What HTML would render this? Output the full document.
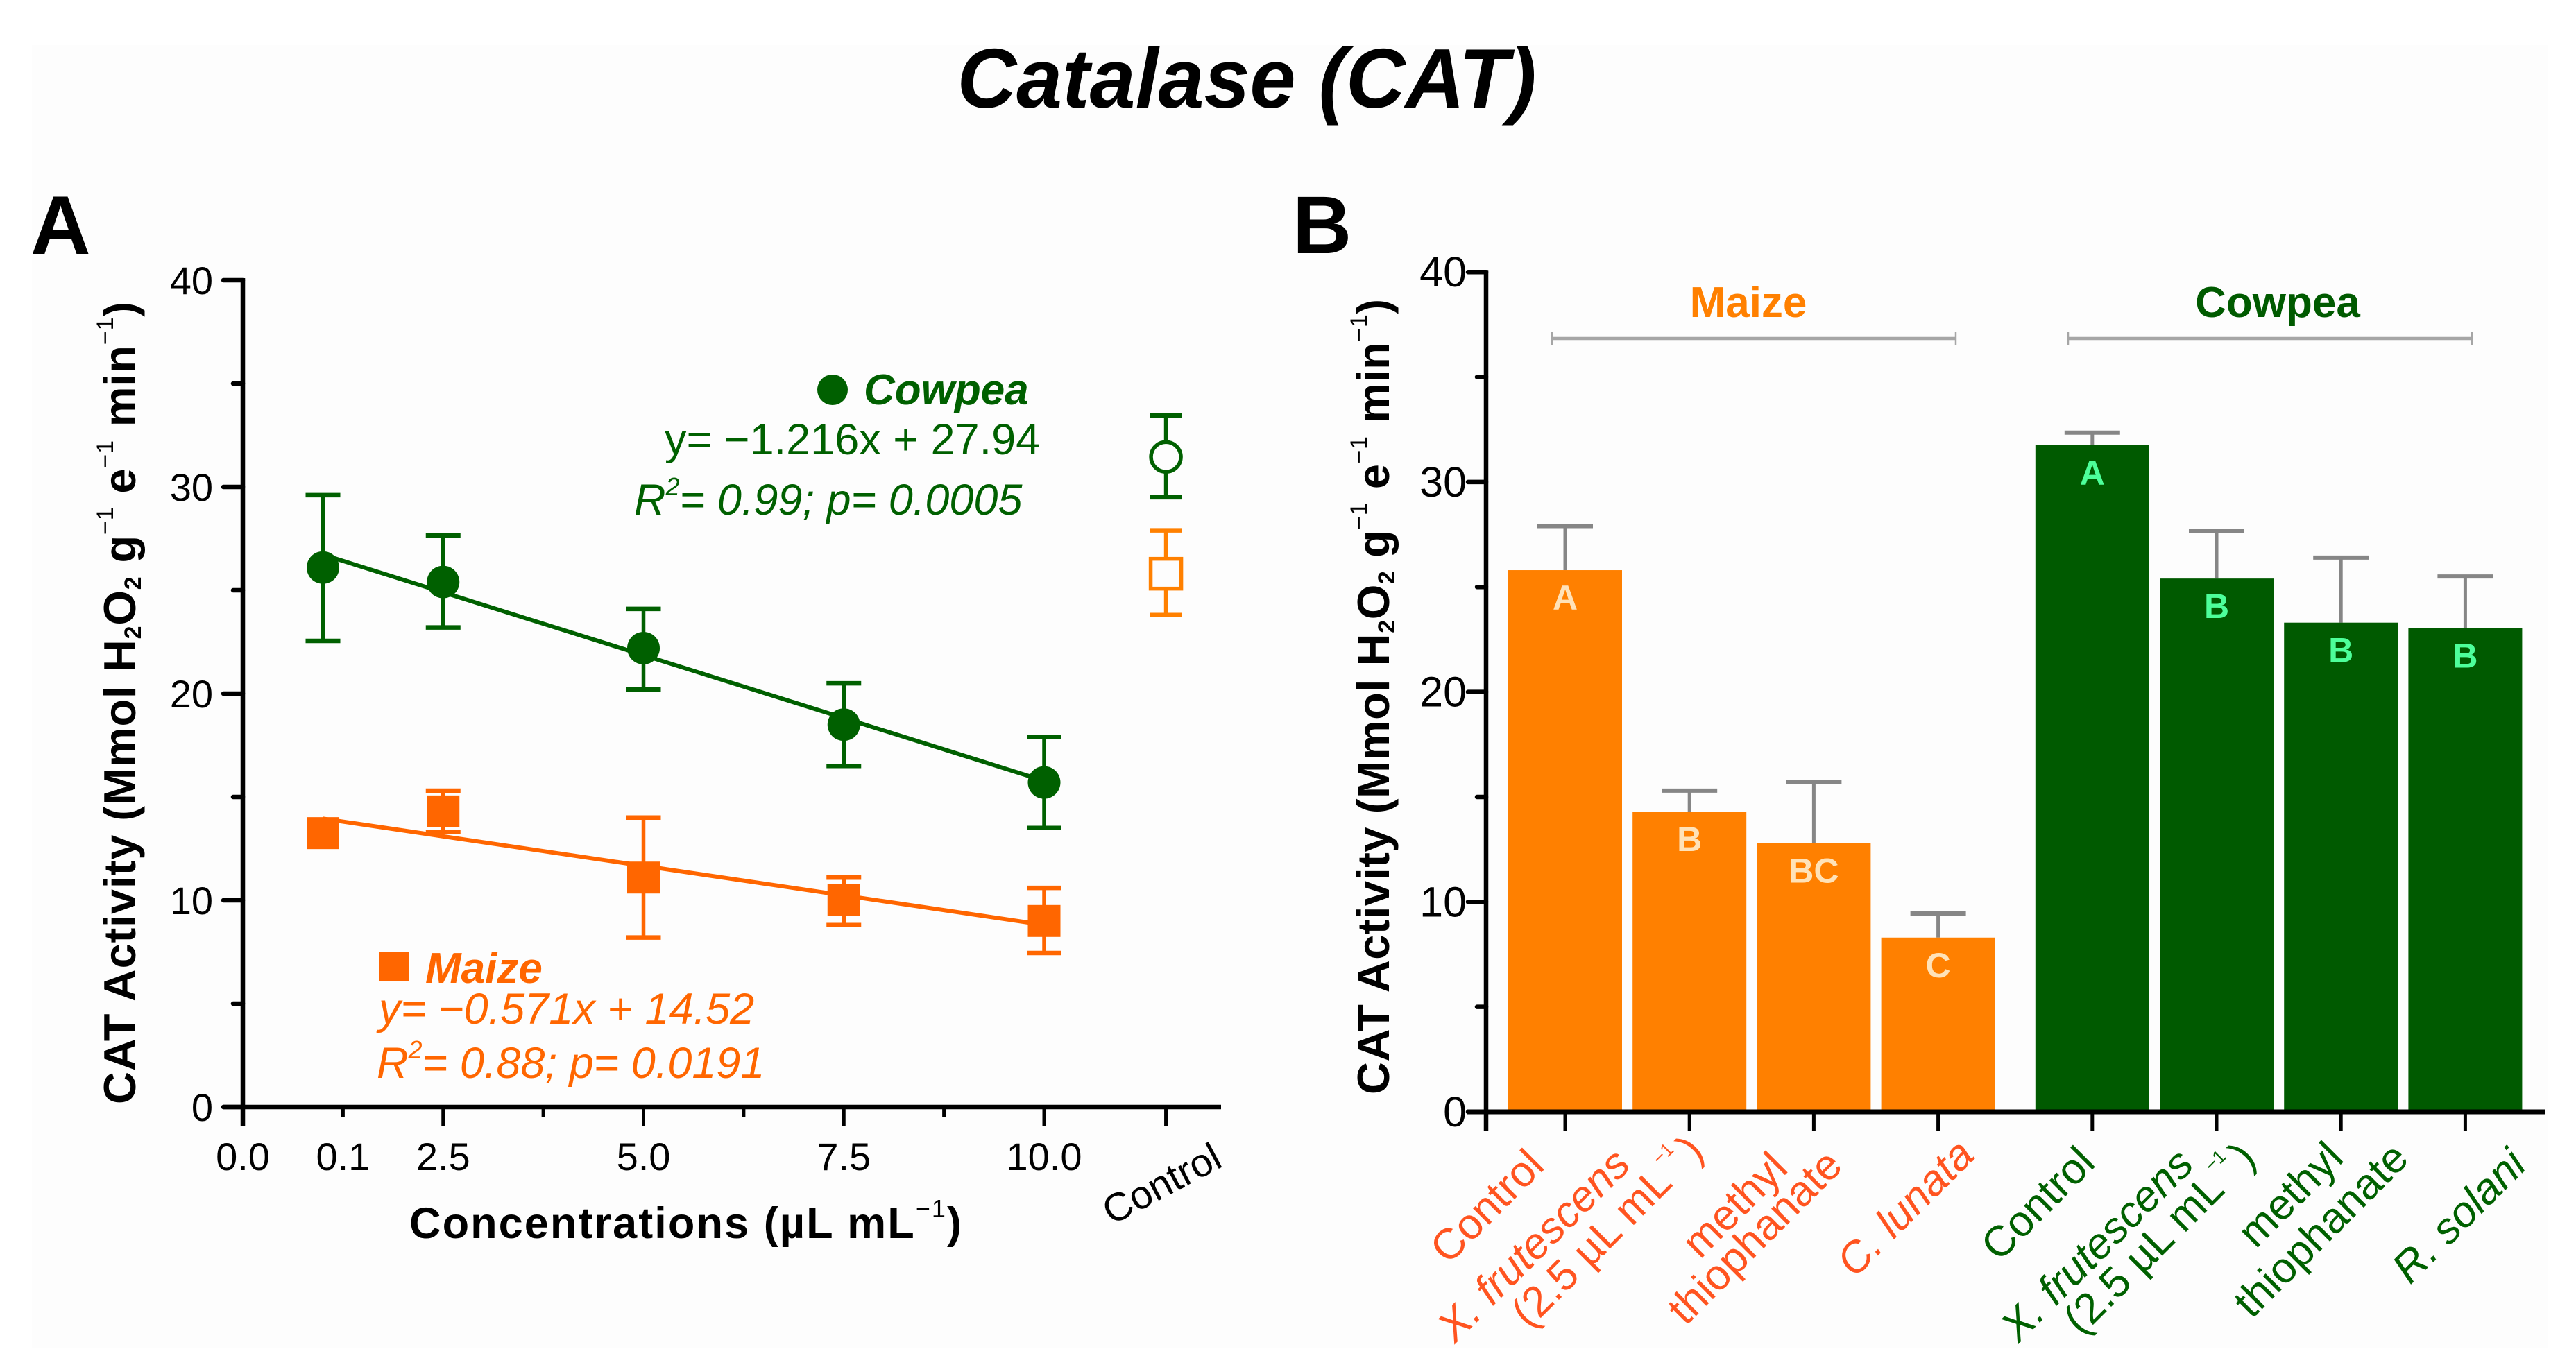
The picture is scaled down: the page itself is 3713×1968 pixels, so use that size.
<!DOCTYPE html>
<html lang="en">
<head>
<meta charset="utf-8">
<title>Catalase (CAT)</title>
<style>
html,body{margin:0;padding:0;background:#fff;}
svg{display:block;}
text{font-family:"Liberation Sans",Arial,sans-serif;}
.b{font-weight:bold;}
.i{font-style:italic;}
.mz{fill:#ff6600;}
.cw{fill:#006000;}
.xr{fill:#ff5420;font-size:62px;text-anchor:middle;}
.xg{fill:#006000;font-size:62px;text-anchor:middle;}
</style>
</head>
<body>
<svg id="fig" xmlns="http://www.w3.org/2000/svg" width="3713" height="1968" viewBox="0 0 3713 1968">
  <rect x="46" y="65" width="3626" height="1878" fill="#fdfdfd"/>
  <text class="b i" x="1797" y="155" font-size="122" text-anchor="middle" textLength="835" lengthAdjust="spacingAndGlyphs">Catalase (CAT)</text>
  <text class="b" x="44" y="366" font-size="120">A</text>
  <text class="b" x="1863" y="365" font-size="118">B</text>

  <g id="panelA"></g>
  <g id="panelB"></g>

  <text class="b" font-size="65" transform="translate(195 1592) rotate(-90)" textLength="1157">CAT Activity (Mmol H<tspan font-size="34" dy="8">2</tspan><tspan dy="-8">O</tspan><tspan font-size="34" dy="8">2</tspan><tspan dy="-8"> g</tspan><tspan font-size="34" font-weight="normal" dy="-32">−1</tspan><tspan dy="32"> e</tspan><tspan font-size="34" font-weight="normal" dy="-32">−1</tspan><tspan dy="32"> min</tspan><tspan font-size="34" font-weight="normal" dy="-32">−1</tspan><tspan dy="32">)</tspan></text>
  <text class="b" font-size="63" x="590" y="1785" textLength="796">Concentrations (µL mL<tspan font-size="36" font-weight="normal" dy="-30">−1</tspan><tspan dy="30">)</tspan></text>
  <text font-size="57" text-anchor="middle" transform="rotate(-28 1675 1708)" x="1675" y="1726">Control</text>

  <circle cx="1200" cy="562" r="22" fill="#006000"/>
  <text class="b i cw" x="1245" y="583" font-size="62">Cowpea</text>
  <text class="cw" x="958" y="655" font-size="63">y= −1.216x + 27.94</text>
  <text class="i cw" x="914" y="742" font-size="63">R<tspan font-size="36" dy="-28">2</tspan><tspan dy="28">= 0.99; p= 0.0005</tspan></text>

  <rect x="547" y="1372" width="43" height="42" fill="#ff6600"/>
  <text class="b i mz" x="613" y="1417" font-size="62">Maize</text>
  <text class="i mz" x="546" y="1476" font-size="63">y= −0.571x + 14.52</text>
  <text class="i mz" x="543" y="1554" font-size="63">R<tspan font-size="36" dy="-28">2</tspan><tspan dy="28">= 0.88; p= 0.0191</tspan></text>

  <text class="b" font-size="65" transform="translate(2002 1578) rotate(-90)" textLength="1147">CAT Activity (Mmol H<tspan font-size="34" dy="8">2</tspan><tspan dy="-8">O</tspan><tspan font-size="34" dy="8">2</tspan><tspan dy="-8"> g</tspan><tspan font-size="34" font-weight="normal" dy="-32">−1</tspan><tspan dy="32"> e</tspan><tspan font-size="34" font-weight="normal" dy="-32">−1</tspan><tspan dy="32"> min</tspan><tspan font-size="34" font-weight="normal" dy="-32">−1</tspan><tspan dy="32">)</tspan></text>

  <g stroke="#a6a6a6" fill="none">
    <line x1="2237" y1="488" x2="2819" y2="488" stroke-width="4.5"/>
    <line x1="2237" y1="478" x2="2237" y2="498" stroke-width="2.5"/>
    <line x1="2819" y1="478" x2="2819" y2="498" stroke-width="2.5"/>
  </g>
  <g stroke="#a6a6a6" fill="none">
    <line x1="2981" y1="488" x2="3563" y2="488" stroke-width="4.5"/>
    <line x1="2981" y1="478" x2="2981" y2="498" stroke-width="2.5"/>
    <line x1="3563" y1="478" x2="3563" y2="498" stroke-width="2.5"/>
  </g>
  <text class="b" fill="#ff8000" x="2520" y="457" font-size="62" text-anchor="middle">Maize</text>
  <text class="b" fill="#005a00" x="3283" y="457" font-size="62" text-anchor="middle">Cowpea</text>

  <text class="xr" transform="rotate(-45 2158 1754)" x="2158" y="1754">Control</text>
  <text class="xr i" transform="rotate(-45 2225 1810)" x="2225" y="1810">X. frutescens</text>
  <text class="xr" transform="rotate(-45 2204 1917)" x="2204" y="1917" style="text-anchor:start">(2.5 µL mL<tspan font-size="27" dy="-34" dx="5">−1</tspan><tspan dy="34" dx="8">)</tspan></text>
  <text class="xr" transform="rotate(-45 2515 1752)" x="2515" y="1752">methyl</text>
  <text class="xr" transform="rotate(-45 2544 1798)" x="2544" y="1798">thiophanate</text>
  <text class="xr i" transform="rotate(-45 2761 1756)" x="2761" y="1756">C. lunata</text>

  <text class="xg" transform="rotate(-45 2952 1750)" x="2952" y="1750">Control</text>
  <text class="xg i" transform="rotate(-45 3037 1810)" x="3037" y="1810">X. frutescens</text>
  <text class="xg" transform="rotate(-45 3000 1927)" x="3000" y="1927" style="text-anchor:start">(2.5 µL mL<tspan font-size="27" dy="-34" dx="5">−1</tspan><tspan dy="34" dx="8">)</tspan></text>
  <text class="xg" transform="rotate(-45 3316 1737)" x="3316" y="1737">methyl</text>
  <text class="xg" transform="rotate(-45 3360 1788)" x="3360" y="1788">thiophanate</text>
  <text class="xg i" transform="rotate(-45 3559 1768)" x="3559" y="1768">R. solani</text>
</svg>
<script>
// ---- Panel A data ----
const doseTickValues = [0, 2.5, 5, 7.5, 10];
const doseTickLabels = ['0.0', '2.5', '5.0', '7.5', '10.0'];
const doseMinorTicks = [1.25, 3.75, 6.25, 8.75];
const doseMinorLabel = '0.1';
const controlAxisValue = 11.52;
const doseValues = [1, 2.5, 5, 7.5, 10];
const cowpeaMeans = [26.1, 25.4, 22.2, 18.5, 15.7];
const cowpeaUpper = [29.6, 27.65, 24.1, 20.5, 17.9];
const cowpeaLower = [22.55, 23.2, 20.2, 16.5, 13.5];
const maizeMeans = [13.25, 14.3, 11.1, 10, 9];
const maizeUpper = [13.25, 15.3, 14, 11.1, 10.6];
const maizeLower = [13.25, 13.3, 8.2, 8.8, 7.45];
const cowpeaControl = [31.45, 33.45, 29.5];
const maizeControl = [25.8, 27.9, 23.8];
const cowpeaFit = [-1.216, 27.94];
const maizeFit = [-0.571, 14.52];
const activityTicks = [0, 10, 20, 30, 40];
const activityMinorTicks = [5, 15, 25, 35];

// ---- Panel B data ----
const barPositions = [0, 1, 2, 3, 4.24, 5.24, 6.24, 7.24];
const barValues = [25.8, 14.3, 12.8, 8.3, 31.75, 25.4, 23.3, 23.05];
const barUpper = [27.9, 15.3, 15.7, 9.45, 32.35, 27.65, 26.4, 25.5];
const barLetters = ['A', 'B', 'BC', 'C', 'A', 'B', 'B', 'B'];
const barSpecies = ['maize', 'maize', 'maize', 'maize', 'cowpea', 'cowpea', 'cowpea', 'cowpea'];

const SVGNS = 'http://www.w3.org/2000/svg';
const panelA = document.getElementById('panelA');
const panelB = document.getElementById('panelB');
function mk(tag, attrs, parent, txt) {
  const n = document.createElementNS(SVGNS, tag);
  for (const k in attrs) n.setAttribute(k, attrs[k]);
  if (txt !== undefined) n.textContent = txt;
  parent.appendChild(n);
  return n;
}
// scales
const xA = v => 350 + 115.5 * v;
const yA = v => 1596 - 29.8 * v;
const xB = p => 2256 + 179.2 * p;
const yB = v => 1603 - 30.27 * v;
const BLACK = '#000';
const GREEN = '#006000';
const ORANGE = '#ff6600';

// ---- Panel A axes ----
let el;
el = mk('line', {x1: xA(0), y1: yA(0) + 28, x2: xA(0), y2: yA(40) - 3, stroke: BLACK, 'stroke-width': 6.5}, panelA);


el = mk('line', {x1: xA(0) - 28, y1: yA(0), x2: 1760, y2: yA(0), stroke: BLACK, 'stroke-width': 6.5}, panelA);


activityTicks.forEach(v => {
  let t = mk('line', {x1: xA(0) - 28, y1: yA(v), x2: xA(0), y2: yA(v), stroke: BLACK, 'stroke-width': 6.5, 'stroke-linecap': 'round'}, panelA);
  
  
  let l = mk('text', {x: 307, y: yA(v) + 20, 'font-size': 56, 'text-anchor': 'end'}, panelA, String(v));
  
  
});
activityMinorTicks.forEach(v => {
  let t = mk('line', {x1: xA(0) - 14, y1: yA(v), x2: xA(0), y2: yA(v), stroke: BLACK, 'stroke-width': 6.5, 'stroke-linecap': 'round'}, panelA);
  
  
});
doseTickValues.concat([controlAxisValue]).forEach(v => {
  let t = mk('line', {x1: xA(v), y1: yA(0), x2: xA(v), y2: yA(0) + 28, stroke: BLACK, 'stroke-width': 5}, panelA);
  
  
});
doseTickValues.forEach((v, i) => {
  let l = mk('text', {x: xA(v), y: 1687, 'font-size': 56, 'text-anchor': 'middle'}, panelA, doseTickLabels[i]);
  
  
});
doseMinorTicks.forEach(v => {
  let t = mk('line', {x1: xA(v), y1: yA(0), x2: xA(v), y2: yA(0) + 14, stroke: BLACK, 'stroke-width': 5}, panelA);
  
  
});
el = mk('text', {x: xA(doseMinorTicks[0]), y: 1687, 'font-size': 56, 'text-anchor': 'middle'}, panelA, doseMinorLabel);



// ---- Shared error bar ----
function errorBar(parent, x, hi, lo, color, capW, sw, capSw, yScale, species, caps) {
  let v = mk('line', {x1: x, y1: yScale(hi), x2: x, y2: yScale(lo), stroke: color, 'stroke-width': sw}, parent);
  
  
  caps.forEach(e => {
    let c = mk('line', {x1: x - capW / 2, y1: yScale(e), x2: x + capW / 2, y2: yScale(e), stroke: color, 'stroke-width': capSw}, parent);
    
    
  });
}
// ---- Panel A series ----
function fitLine(fit, color, species) {
  const a = doseValues[0], b = doseValues[doseValues.length - 1];
  let f = mk('line', {x1: xA(a), y1: yA(fit[0] * a + fit[1]), x2: xA(b), y2: yA(fit[0] * b + fit[1]), stroke: color, 'stroke-width': 6}, panelA);
  
  
}
fitLine(cowpeaFit, GREEN, 'cowpea');
fitLine(maizeFit, ORANGE, 'maize');
doseValues.forEach((d, i) => {
  errorBar(panelA, xA(d), cowpeaUpper[i], cowpeaLower[i], GREEN, 50, 5.5, 6.5, yA, 'cowpea', [cowpeaUpper[i], cowpeaLower[i]]);
  let p = mk('circle', {cx: xA(d), cy: yA(cowpeaMeans[i]), r: 23.5, fill: GREEN}, panelA);
  
  
  if (maizeUpper[i] !== maizeLower[i]) errorBar(panelA, xA(d), maizeUpper[i], maizeLower[i], ORANGE, 50, 5.5, 6.5, yA, 'maize', [maizeUpper[i], maizeLower[i]]);
  let s = mk('rect', {x: xA(d) - 23.5, y: yA(maizeMeans[i]) - 23, width: 47, height: 46, fill: ORANGE}, panelA);
  
  
});
errorBar(panelA, xA(controlAxisValue), cowpeaControl[1], cowpeaControl[2], GREEN, 46, 5.5, 6.5, yA, 'cowpea-control', [cowpeaControl[1], cowpeaControl[2]]);
el = mk('circle', {cx: xA(controlAxisValue), cy: yA(cowpeaControl[0]), r: 21.5, fill: '#fdfdfd', stroke: GREEN, 'stroke-width': 5.5}, panelA);


errorBar(panelA, xA(controlAxisValue), maizeControl[1], maizeControl[2], '#ff8000', 46, 5.5, 6.5, yA, 'maize-control', [maizeControl[1], maizeControl[2]]);
el = mk('rect', {x: xA(controlAxisValue) - 22, y: yA(maizeControl[0]) - 21.5, width: 44, height: 43, fill: '#fdfdfd', stroke: '#ff8000', 'stroke-width': 5.5}, panelA);



// ---- Panel B ----
const BAR_W = 164;
barPositions.forEach((p, i) => {
  const cx = xB(p);
  const isMaize = barSpecies[i] === 'maize';
  errorBar(panelB, cx, barUpper[i], barValues[i], '#868686', 80, 5, 6, yB, barSpecies[i] + '-bar', [barUpper[i]]);
  let b = mk('rect', {x: cx - BAR_W / 2, y: yB(barValues[i]), width: BAR_W, height: yB(0) - yB(barValues[i]), fill: isMaize ? '#ff8000' : '#005a00'}, panelB);
  
  
  let l = mk('text', {x: cx, y: yB(barValues[i]) + 57, 'font-size': 50, 'font-weight': 'bold', 'text-anchor': 'middle', fill: isMaize ? '#ffe2b8' : '#4dff9a'}, panelB, barLetters[i]);
  
  
  let t = mk('line', {x1: cx, y1: yB(0), x2: cx, y2: yB(0) + 27, stroke: BLACK, 'stroke-width': 5}, panelB);
  
  
});
el = mk('line', {x1: 2142, y1: yB(0) + 27, x2: 2142, y2: yB(40) - 3, stroke: BLACK, 'stroke-width': 6.5}, panelB);


el = mk('line', {x1: 2114, y1: yB(0), x2: 3668, y2: yB(0), stroke: BLACK, 'stroke-width': 7}, panelB);


activityTicks.forEach(v => {
  let t = mk('line', {x1: 2116, y1: yB(v), x2: 2142, y2: yB(v), stroke: BLACK, 'stroke-width': 6.5, 'stroke-linecap': 'round'}, panelB);
  
  
  let l = mk('text', {x: 2114, y: yB(v) + 21, 'font-size': 61, 'text-anchor': 'end'}, panelB, String(v));
  
  
});
activityMinorTicks.forEach(v => {
  let t = mk('line', {x1: 2129, y1: yB(v), x2: 2142, y2: yB(v), stroke: BLACK, 'stroke-width': 6.5, 'stroke-linecap': 'round'}, panelB);
  
  
});
</script>
</body>
</html>
